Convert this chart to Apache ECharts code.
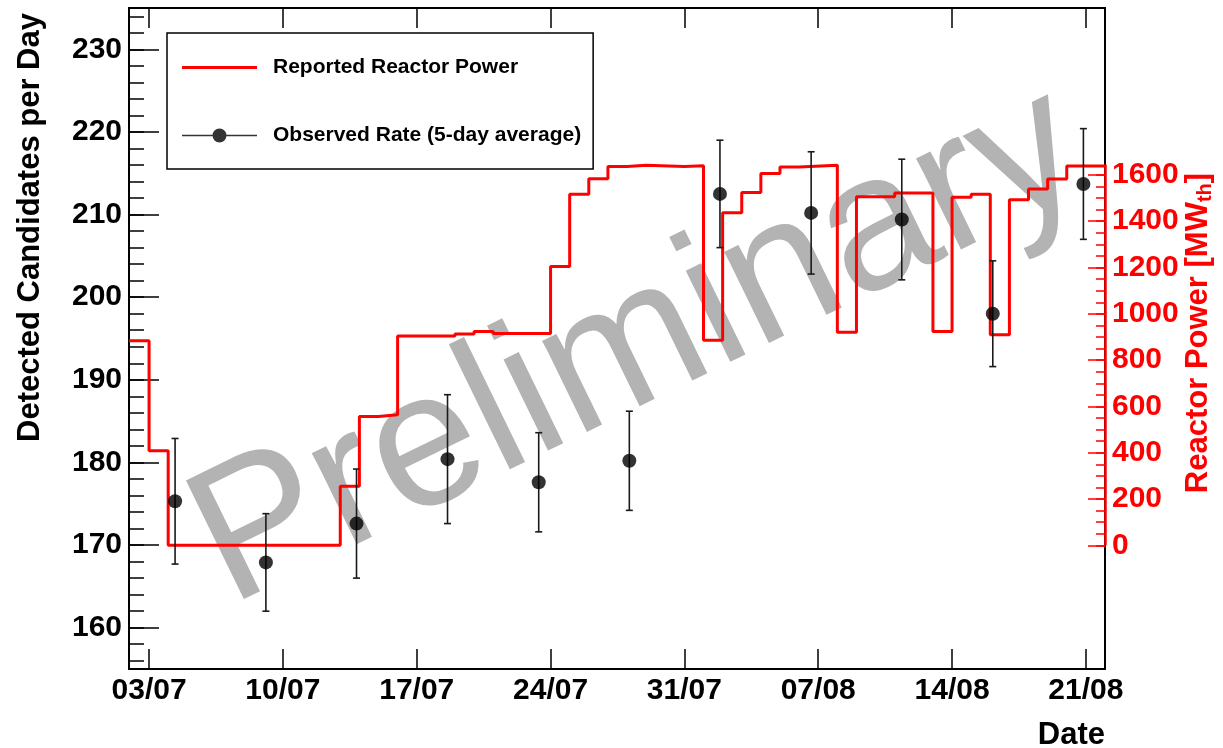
<!DOCTYPE html>
<html>
<head>
<meta charset="utf-8">
<title>Reactor power and observed rate</title>
<script src="https://cdn.jsdelivr.net/npm/echarts@6/dist/echarts.min.js"></script>
<style>
  html, body { margin: 0; padding: 0; background: #fff; }
  #chart { width: 1223px; height: 748px; }
</style>
</head>
<body>
<div id="chart"></div>
<script>
// x values are days since 03/07
const dayTicks = [0, 7, 14, 21, 28, 35, 42, 49]
const dayLabels = ['03/07', '10/07', '17/07', '24/07', '31/07', '07/08', '14/08', '21/08']

// reported reactor power (MW_th), one level per bin between consecutive edges
const binEdges = [-1.05, 0, 1, 10, 11, 12, 13, 16, 17, 18, 21, 22, 23, 24, 25, 26, 28, 29, 30, 31,
  32, 33, 34, 36, 37, 39, 41, 42, 43, 44, 45, 46, 47, 48, 50]
const powerLevels = [884, 409, 0, 255, 557, 564, 904, 913, 924, 915, 1205, 1517, 1583, 1636, 1642, 1636, 1640, 886, 1437, 1524,
  1606, 1634, 1642, 921, 1506, 1522, 924, 1504, 1517, 910, 1493, 1539, 1582, 1639]

// observed rate, 5-day average
const rateDay = [1.36, 6.11, 10.85, 15.61, 20.38, 25.12, 29.86, 34.63, 39.37, 44.13, 48.87]
const rateValue = [175.3, 167.9, 172.6, 180.4, 177.6, 180.2, 212.5, 210.2, 209.4, 198.0, 213.7]
const rateError = [7.6, 5.9, 6.6, 7.8, 6.0, 6.0, 6.5, 7.4, 7.3, 6.4, 6.7]

const rateTicks = [160, 170, 180, 190, 200, 210, 220, 230]
const powerTicks = [0, 200, 400, 600, 800, 1000, 1200, 1400, 1600]

const rateMinor = []
for (let v = 156; v <= 234; v += 2) rateMinor.push(v)
const powerMinor = []
for (let v = 0; v <= 1600; v += 50) powerMinor.push(v)

const FONT = '"Liberation Sans", Arial, Helvetica, sans-serif'
const RED = '#ff0000'

const powerData = binEdges.map((e, i) => [e, powerLevels[Math.min(i, powerLevels.length - 1)]])
const rateData = rateDay.map((d, i) => [d, rateValue[i]])
const errData = rateDay.map((d, i) => [d, rateValue[i] - rateError[i], rateValue[i] + rateError[i]])

const chart = echarts.init(document.getElementById('chart'))

const xBase = {
  type: 'value',
  min: -1.05,
  max: 50,
  splitLine: { show: false },
  axisTick: {
    inside: true,
    length: 20,
    customValues: dayTicks,
    lineStyle: { color: '#000', width: 1.5 }
  }
}

const options = {
  animation: false,
  backgroundColor: '#fff',
  grid: {
    left: 129,
    right: 118,
    top: 8,
    bottom: 79,
    outerBoundsMode: 'none',
    containLabel: false,
    show: true,
    borderColor: '#000',
    borderWidth: 2,
    backgroundColor: 'transparent'
  },
  graphic: [{
    type: 'text',
    x: 638,
    y: 348,
    rotation: 26 * Math.PI / 180,
    z: 0,
    silent: true,
    style: {
      text: 'Preliminary',
      fontFamily: FONT,
      fontSize: 192,
      fill: '#b3b3b3',
      align: 'center',
      verticalAlign: 'middle'
    }
  }],
  legend: {
    orient: 'vertical',
    left: 167,
    top: 33,
    padding: [24, 12, 23, 15],
    itemGap: 47,
    itemWidth: 75,
    itemHeight: 14,
    borderColor: '#000',
    borderWidth: 1.5,
    backgroundColor: '#fff',
    textStyle: {
      fontFamily: FONT,
      fontSize: 21,
      fontWeight: 'bold',
      color: '#000',
      padding: [0, 0, 0, 11]
    },
    data: [
      {
        name: 'Reported Reactor Power',
        icon: 'path://M0,0H0.01V0.01H0Z M74.99,13.99H75V14H74.99Z M0,5.5H75V8.5H0Z'
      },
      {
        name: 'Observed Rate (5-day average)',
        icon: 'path://M0,6.25H75V7.75H0Z M30.5,7A7,7 0 1,1 44.5,7A7,7 0 1,1 30.5,7Z'
      }
    ]
  },
  xAxis: [
    Object.assign({}, xBase, {
      position: 'bottom',
      axisLine: { onZero: false, lineStyle: { color: '#000', width: 2 } },
      axisLabel: {
        customValues: dayTicks,
        formatter: v => dayLabels[dayTicks.indexOf(v)],
        fontFamily: FONT,
        fontSize: 30,
        fontWeight: 'bold',
        color: '#000',
        margin: 7
      },
      name: 'Date',
      nameLocation: 'end',
      nameGap: 0,
      nameMoveOverlap: false,
      nameTextStyle: {
        fontFamily: FONT,
        fontSize: 31,
        fontWeight: 'bold',
        color: '#000',
        align: 'right',
        verticalAlign: 'top',
        padding: [51, 0, 0, 0]
      }
    }),
    Object.assign({}, xBase, {
      position: 'top',
      axisLine: { show: false, onZero: false },
      axisLabel: { show: false }
    })
  ],
  yAxis: [
    {
      type: 'value',
      position: 'left',
      min: 155,
      max: 235,
      splitLine: { show: false },
      axisLine: { show: true, onZero: false, lineStyle: { color: '#000', width: 2 } },
      axisTick: {
        inside: true,
        length: 30,
        customValues: rateTicks,
        lineStyle: { color: '#000', width: 1.5 }
      },
      axisLabel: {
        customValues: rateTicks,
        fontFamily: FONT,
        fontSize: 30,
        fontWeight: 'bold',
        color: '#000',
        margin: 7
      },
      name: 'Detected Candidates per Day',
      nameLocation: 'middle',
      nameRotate: 90,
      nameGap: 83,
      nameMoveOverlap: false,
      nameTextStyle: {
        fontFamily: FONT,
        fontSize: 31,
        fontWeight: 'bold',
        color: '#000',
        padding: [0, 0, 0, 222]
      }
    },
    {
      type: 'value',
      position: 'right',
      min: -534,
      max: 2321,
      splitLine: { show: false },
      axisLine: { show: false, onZero: false },
      axisTick: {
        inside: true,
        length: 17,
        customValues: powerTicks,
        lineStyle: { color: RED, width: 1.5 }
      },
      axisLabel: {
        customValues: powerTicks,
        formatter: v => String(v),
        fontFamily: FONT,
        fontSize: 30,
        fontWeight: 'bold',
        color: RED,
        margin: 7
      },
      name: 'Reactor Power [MW{sub|th}]',
      nameLocation: 'middle',
      nameRotate: 90,
      nameGap: 76,
      nameMoveOverlap: false,
      nameTextStyle: {
        fontFamily: FONT,
        fontSize: 31,
        fontWeight: 'bold',
        color: RED,
        padding: [0, 0, 0, 11],
        rich: {
          sub: {
            fontFamily: FONT,
            fontSize: 20,
            fontWeight: 'bold',
            color: RED,
            padding: [14, 0, 0, 0]
          }
        }
      }
    },
    {
      // left minor ticks
      type: 'value',
      position: 'left',
      min: 155,
      max: 235,
      splitLine: { show: false },
      axisLine: { show: false, onZero: false },
      axisLabel: { show: false },
      axisTick: {
        inside: true,
        length: 15,
        customValues: rateMinor,
        lineStyle: { color: '#000', width: 1.5 }
      }
    },
    {
      // right minor ticks
      type: 'value',
      position: 'right',
      min: -534,
      max: 2321,
      splitLine: { show: false },
      axisLine: { show: false, onZero: false },
      axisLabel: { show: false },
      axisTick: {
        inside: true,
        length: 9,
        customValues: powerMinor,
        lineStyle: { color: RED, width: 1.5 }
      }
    }
  ],
  series: [
    {
      name: 'Reported Reactor Power',
      type: 'line',
      xAxisIndex: 0,
      yAxisIndex: 1,
      step: 'end',
      symbol: 'none',
      clip: false,
      data: powerData,
      z: 3,
      itemStyle: { color: RED },
      lineStyle: { color: RED, width: 3 },
      markLine: {
        silent: true,
        symbol: 'none',
        label: { show: false },
        z: 10,
        lineStyle: { color: RED, width: 2.5, type: 'solid' },
        data: [[{ coord: [50, 0] }, { coord: [50, 1645] }]]
      }
    },
    {
      name: 'Observed Rate (5-day average)',
      type: 'scatter',
      xAxisIndex: 0,
      yAxisIndex: 0,
      symbol: 'circle',
      symbolSize: 14,
      data: rateData,
      z: 5,
      itemStyle: { color: '#000' }
    },
    {
      name: 'errors',
      type: 'custom',
      xAxisIndex: 0,
      yAxisIndex: 0,
      z: 4,
      data: errData,
      renderItem: function (params, api) {
        const lo = api.coord([api.value(0), api.value(1)])
        const hi = api.coord([api.value(0), api.value(2)])
        const cap = 3.5
        const style = { stroke: '#1a1a1a', lineWidth: 1.6 }
        return {
          type: 'group',
          children: [
            { type: 'line', shape: { x1: lo[0], y1: lo[1], x2: hi[0], y2: hi[1] }, style: style },
            { type: 'line', shape: { x1: lo[0] - cap, y1: lo[1], x2: lo[0] + cap, y2: lo[1] }, style: style },
            { type: 'line', shape: { x1: hi[0] - cap, y1: hi[1], x2: hi[0] + cap, y2: hi[1] }, style: style }
          ]
        }
      }
    }
  ]
}

chart.setOption(options)
window.addEventListener('resize', () => chart.resize())
</script>
</body>
</html>
